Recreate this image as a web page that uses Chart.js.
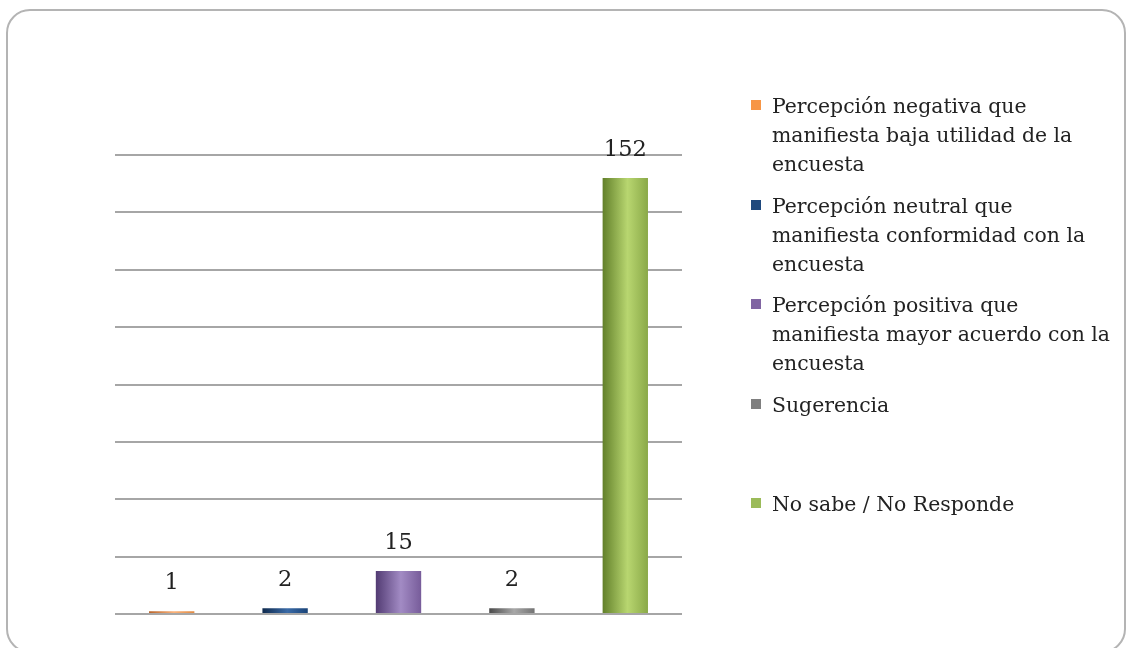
<!DOCTYPE html>
<html>
<head>
<meta charset="utf-8">
<script src="https://cdn.jsdelivr.net/npm/chart.js@4.4.0/dist/chart.umd.min.js"></script>
<style>
  html, body { margin: 0; padding: 0; background: #fff; }
  #wrap { position: relative; width: 1126px; height: 648px; overflow: hidden; }
  #frame {
    position: absolute; left: 6px; top: 9px; width: 1120px; height: 644px;
    border: 2px solid #b4b4b4; border-radius: 24px; box-sizing: border-box;
  }
  #chart { position: absolute; left: 0; top: 0; }
  #legend { position: absolute; left: 750px; top: 92px; font-family: "DejaVu Serif", serif; font-size: 20.4px; color: #222; }
  .item { position: relative; height: 99.6px; padding-left: 22px; line-height: 29px; }
  .item .box { position: absolute; left: 1px; top: 8px; width: 10px; height: 10px; }
</style>
</head>
<body>
<div id="wrap">
  <div id="frame"></div>
  <canvas id="chart" width="1126" height="648"></canvas>
  <div id="legend"></div>
</div>
<script>
// categories (legend lines), values and colours
const categories = [
    ['Percepción negativa que', 'manifiesta baja utilidad de la', 'encuesta'],
    ['Percepción neutral que', 'manifiesta conformidad con la', 'encuesta'],
    ['Percepción positiva que', 'manifiesta mayor acuerdo con la', 'encuesta'],
    ['Sugerencia'],
    ['No sabe / No Responde']
];
const values = [1, 2, 15, 2, 152];
const baseColors = ['#F79646', '#1F497D', '#8064A2', '#7F7F7F', '#9BBB59'];
// dark edge, light highlight, mid edge for the cylinder shading
const shades = [
    ['#b8642a', '#fbb27a', '#e08a42'],
    ['#0f2a4d', '#3a6aa6', '#1a4478'],
    ['#523b73', '#a28bc4', '#775c9a'],
    ['#4a4a4a', '#a8a8a8', '#737373'],
    ['#62802a', '#b8d670', '#8aa948']
];
const yMax = 160;
const yStep = 20;

function barGradient(context) {
    const i = context.dataIndex;
    if (i === undefined) return baseColors[0];
    const chart = context.chart;
    const xs = chart.scales.x;
    if (!xs) return baseColors[i];
    const cx = xs.getPixelForValue(i);
    const w = (xs.width / values.length) * 0.4;
    if (!Number.isFinite(cx) || !Number.isFinite(w) || w <= 0) return baseColors[i];
    const g = chart.ctx.createLinearGradient(cx - w / 2, 0, cx + w / 2, 0);
    const s = shades[i];
    g.addColorStop(0, s[0]);
    g.addColorStop(0.55, s[1]);
    g.addColorStop(1, s[2]);
    return g;
}

// value labels above the bars
const valueLabels = {
    id: 'valueLabels',
    afterDatasetsDraw(chart) {
        const ctx = chart.ctx;
        const meta = chart.getDatasetMeta(0);
        ctx.save();
        ctx.font = '22.5px "DejaVu Serif", serif';
        ctx.fillStyle = '#222';
        ctx.textAlign = 'center';
        ctx.textBaseline = 'bottom';
        meta.data.forEach((bar, i) => {
            ctx.fillText(String(values[i]), bar.x, bar.y - 17);
        });
        ctx.restore();
    }
};

const ctx = document.getElementById('chart').getContext('2d');
new Chart(ctx, {
    type: 'bar',
    data: {
        labels: categories,
        datasets: [{
            data: values,
            backgroundColor: barGradient,
            borderWidth: 0,
            barPercentage: 0.4,
            categoryPercentage: 1
        }]
    },
    options: {
        responsive: false,
        animation: false,
        layout: {
            padding: { left: 115, top: 155, right: 444, bottom: 34 }
        },
        plugins: {
            legend: { display: false },
            tooltip: { enabled: false }
        },
        scales: {
            x: {
                display: false
            },
            y: {
                min: 0,
                max: yMax,
                ticks: { display: false, stepSize: yStep },
                border: { display: false },
                grid: { color: '#a6a6a6', lineWidth: 2, drawTicks: false }
            }
        }
    },
    plugins: [valueLabels]
});

// legend
const legend = document.getElementById('legend');
categories.forEach((lines, i) => {
    const item = document.createElement('div');
    item.className = 'item';
    const box = document.createElement('span');
    box.className = 'box';
    box.style.background = baseColors[i];
    item.appendChild(box);
    lines.forEach(line => {
        const d = document.createElement('div');
        d.textContent = line;
        item.appendChild(d);
    });
    legend.appendChild(item);
});
</script>
</body>
</html>
